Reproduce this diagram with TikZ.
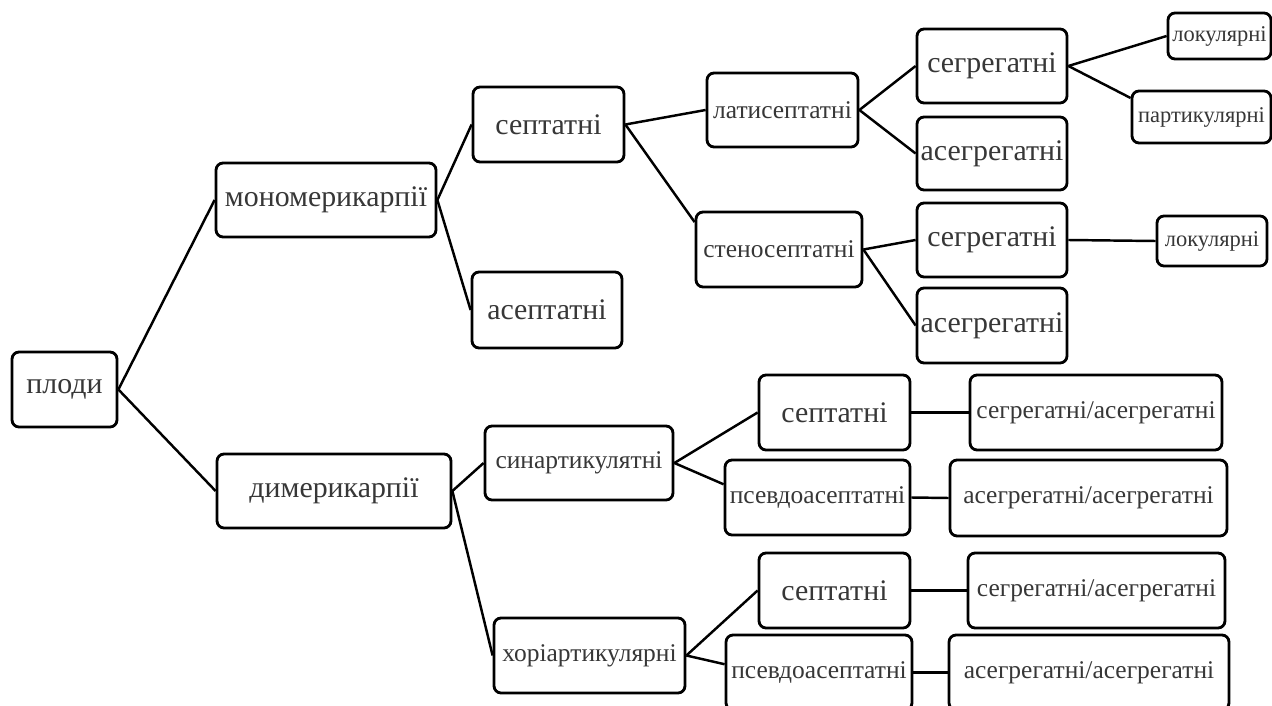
\documentclass[tikz,border=0pt]{standalone}
\usepackage{fontspec}
\setmainfont{Liberation Serif}
\usetikzlibrary{positioning}
\definecolor{texte}{RGB}{55,55,55}
\tikzset{
  boite/.style={draw, line width=1.6pt, rounded corners=4pt, fill=white, text=texte, inner sep=0pt, align=center},
  grand/.style={boite, font=\fontsize{17}{20}\selectfont},
  moyen/.style={boite, font=\fontsize{14.5}{17}\selectfont},
  petit/.style={boite, font=\fontsize{12.8}{15}\selectfont},
  taille/.style 2 args={minimum width=#1cm, minimum height=#2cm},
  lien/.style={line width=1.4pt},
}

\begin{document}
\begin{tikzpicture}[x=0.02cm, y=-0.02cm]

    \useasboundingbox (0,0) rectangle (1272,706);

    % ═══════════════════════════════════════════════════════════════════════════
    % RACINE
    % ═══════════════════════════════════════════════════════════════════════════

    \node[grand, taille={2.10}{1.50}] (plodi) at (64.5, 389.5) {плоди};

    \node[grand, taille={4.40}{1.48}] (mono) at (326, 200) {мономерикарпії};
    \node[grand, taille={4.68}{1.48}] (dimer) at (334, 491) {димерикарпії};

    % ═══════════════════════════════════════════════════════════════════════════
    % MONOMERIKARPII
    % ═══════════════════════════════════════════════════════════════════════════

    \node[grand, taille={3.02}{1.50}] (sept) at (548.5, 124.5) {септатні};
    \node[grand, taille={3.00}{1.52}] (asept) at (547, 310) {асептатні};

    \node[moyen, taille={3.02}{1.48}] (lati) at (782.5, 110) {латисептатні};
    \node[moyen, taille={3.32}{1.50}] (steno) at (779, 249.5) {стеносептатні};

    \node[grand, taille={3.00}{1.48}] (segrA) at (992, 66) {сегрегатні};
    \node[grand, taille={3.00}{1.46}] (asegrA) at (992, 153.5) {асегрегатні};
    \node[grand, taille={3.00}{1.48}] (segrB) at (992, 240) {сегрегатні};
    \node[grand, taille={3.00}{1.50}] (asegrB) at (992, 325.5) {асегрегатні};

    \node[petit, taille={2.06}{0.92}] (lokA) at (1219.5, 36) {локулярні};
    \node[petit, taille={2.78}{1.04}] (part) at (1201.5, 117) {партикулярні};
    \node[petit, taille={2.20}{1.00}] (lokB) at (1212, 241) {локулярні};

    % ═══════════════════════════════════════════════════════════════════════════
    % DIMERIKARPII
    % ═══════════════════════════════════════════════════════════════════════════

    \node[moyen, taille={3.76}{1.48}] (synart) at (579, 463) {синартикулятні};
    \node[moyen, taille={3.82}{1.50}] (chorart) at (589.5, 655.5) {хоріартикулярні};

    \node[grand, taille={3.02}{1.50}] (septA) at (834.5, 412.5) {септатні};
    \node[moyen, taille={3.70}{1.50}] (pseudoA) at (817.5, 497.5) {псевдоасептатні};
    \node[grand, taille={3.02}{1.50}] (septB) at (834.5, 590.5) {септатні};
    \node[moyen, taille={3.72}{1.50}] (pseudoB) at (819, 672.5) {псевдоасептатні};

    \node[moyen, taille={5.04}{1.50}] (saA) at (1096, 412.5) {сегрегатні/асегрегатні};
    \node[moyen, taille={5.54}{1.52}] (aaA) at (1088.5, 498) {асегрегатні/асегрегатні};
    \node[moyen, taille={5.14}{1.50}] (saB) at (1096.5, 590.5) {сегрегатні/асегрегатні};
    \node[moyen, taille={5.60}{1.50}] (aaB) at (1089, 672.5) {асегрегатні/асегрегатні};

    % ═══════════════════════════════════════════════════════════════════════════
    % LIENS
    % ═══════════════════════════════════════════════════════════════════════════

    \draw[lien] (plodi.east) -- (mono.west);
    \draw[lien] (plodi.east) -- (dimer.west);

    \draw[lien] (mono.east) -- (sept.west);
    \draw[lien] (mono.east) -- (asept.west);
    \draw[lien] (sept.east) -- (lati.west);
    \draw[lien] (sept.east) -- (steno.162);

    \draw[lien] (lati.east) -- (segrA.west);
    \draw[lien] (lati.east) -- (asegrA.west);
    \draw[lien] (steno.east) -- (segrB.west);
    \draw[lien] (steno.east) -- (asegrB.west);

    \draw[lien] (segrA.east) -- (lokA.west);
    \draw[lien] (segrA.east) -- (part.165);
    \draw[lien] (segrB.east) -- (lokB.west);

    \draw[lien] (dimer.east) -- (synart.west);
    \draw[lien] (dimer.east) -- (chorart.west);

    \draw[lien] (synart.east) -- (septA.west);
    \draw[lien] (synart.east) -- (pseudoA.172);
    \draw[lien] (chorart.east) -- (septB.west);
    \draw[lien] (chorart.east) -- (pseudoB.175);

    \draw[lien] (septA.east) -- (saA.west);
    \draw[lien] (pseudoA.east) -- (aaA.west);
    \draw[lien] (septB.east) -- (saB.west);
    \draw[lien] (pseudoB.east) -- (aaB.west);

\end{tikzpicture}
\end{document}
